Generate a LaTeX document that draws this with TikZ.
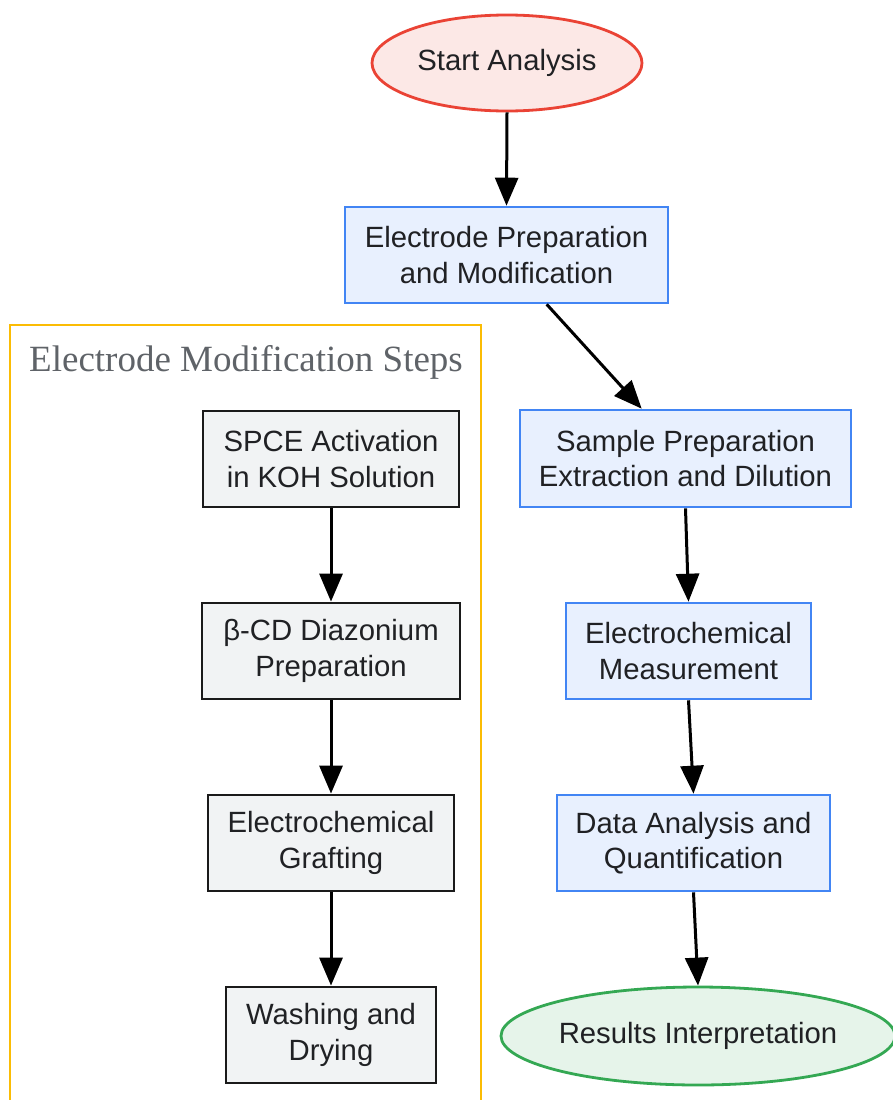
\documentclass[tikz,border=0pt]{standalone}
\usepackage{fontspec}
\setmainfont{Liberation Sans}
\newfontfamily\titlefont{Liberation Serif}
\usetikzlibrary{shapes.geometric,arrows.meta,calc}
\definecolor{redS}{HTML}{EA4335}
\definecolor{redF}{HTML}{FCE8E6}
\definecolor{blueS}{HTML}{4285F4}
\definecolor{blueF}{HTML}{E8F0FE}
\definecolor{grayF}{HTML}{F1F3F4}
\definecolor{grayS}{HTML}{1A1A1A}
\definecolor{greenS}{HTML}{34A853}
\definecolor{greenF}{HTML}{E6F4EA}
\definecolor{yellowS}{HTML}{FBBC04}
\definecolor{titleC}{HTML}{5F6368}
\definecolor{txt}{HTML}{202124}
\tikzset{
  base/.style={inner sep=0pt, align=center, text=txt, font=\fontsize{29.3}{35.5}\selectfont},
  bluebox/.style={base, rectangle, draw=blueS, fill=blueF, line width=2.6pt},
  graybox/.style={base, rectangle, draw=grayS, fill=grayF, line width=2.8pt},
  startell/.style={base, ellipse, draw=redS, fill=redF, line width=2.8pt},
  endell/.style={base, ellipse, draw=greenS, fill=greenF, line width=2.8pt},
  arr/.style={line width=3pt, -{Triangle[length=28pt,width=23pt]}},
}
\begin{document}
\begin{tikzpicture}[x=1pt,y=-1pt]
\useasboundingbox (0,0) rectangle (893,1100);
\clip (0,0) rectangle (893,1100);
% cluster
\draw[yellowS, line width=2.8pt] (10,1120) -- (10,325) -- (481,325) -- (481,1120);
\node[anchor=base, text=titleC, font=\titlefont\fontsize{37}{44}\selectfont, inner sep=0pt] (title) at (246,371) {Electrode Modification Steps};
% right column
\node[startell, minimum width=270pt, minimum height=96pt] (start) at (507,63) {\raisebox{-2pt}{Start Analysis}};
\node[bluebox, minimum width=323pt, minimum height=96pt] (ep) at (506.5,255) {Electrode Preparation\\and Modification};
\node[bluebox, minimum width=331pt, minimum height=97pt] (sp) at (685.5,458.5) {Sample Preparation\\Extraction and Dilution};
\node[bluebox, minimum width=245pt, minimum height=96pt] (em) at (688.5,651) {Electrochemical\\Measurement};
\node[bluebox, minimum width=273pt, minimum height=96pt] (da) at (693.5,843) {Data Analysis and\\Quantification};
\node[endell, minimum width=394pt, minimum height=98pt] (res) at (698,1036) {\raisebox{-2pt}{Results Interpretation}};
% left column
\node[graybox, minimum width=256pt, minimum height=96pt] (s1) at (331,459) {SPCE Activation\\in KOH Solution};
\node[graybox, minimum width=258pt, minimum height=96pt] (s2) at (331,651) {β-CD Diazonium\\Preparation};
\node[graybox, minimum width=246pt, minimum height=96pt] (s3) at (331,843) {Electrochemical\\Grafting};
\node[graybox, minimum width=210pt, minimum height=96pt] (s4) at (331,1035) {Washing and\\Drying};
% connectors
\draw[arr] (start.south) -- (ep.north);
\draw[arr] ($(ep.south west)+(203,0)$) -- ($(sp.north west)+(123,0)$);
\draw[arr] (sp.south) -- (em.north);
\draw[arr] (em.south) -- (da.north);
\draw[arr] (da.south) -- (res.north);
\draw[arr] (s1.south) -- (s2.north);
\draw[arr] (s2.south) -- (s3.north);
\draw[arr] (s3.south) -- (s4.north);
\end{tikzpicture}
\end{document}
